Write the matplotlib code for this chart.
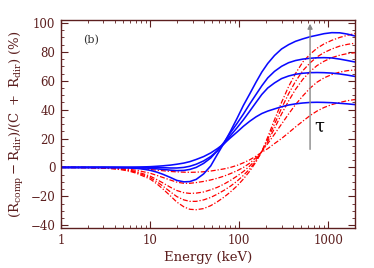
import numpy as np
import matplotlib
matplotlib.use("Agg")
import matplotlib.pyplot as plt
from matplotlib.ticker import MultipleLocator, LogLocator, NullFormatter, FixedLocator

plt.rcParams["font.family"] = "DejaVu Serif"
plt.rcParams["mathtext.fontset"] = "dejavuserif"

# energy grid (keV)
energy = [1, 2, 3, 4, 5, 6, 7, 8, 10, 12, 14, 17, 20, 24, 28, 33, 40, 48, 57,
          68, 80, 95, 112, 132, 155, 180, 210, 250, 300, 360, 430, 520, 630,
          750, 900, 1100, 1350, 1650, 2000]

# blue solid curves
blue1 = [0, 0, 0, -0.1, -0.2, -0.4, -0.7, -1, -2, -3.3, -4.8, -7, -9, -10,
         -9.8, -8.3, -4.5, 1, 9, 17, 25, 34, 43, 51, 59, 66, 72, 77.5, 82,
         85, 87.3, 89, 90.5, 91.5, 92.6, 93.3, 93.2, 92.3, 91]
blue2 = [0, 0, 0, 0, 0, -0.1, -0.2, -0.3, -0.6, -1, -1.4, -1.9, -2.2, -2.1,
         -1.4, 0, 2.8, 6.5, 11.5, 17.5, 24, 30.5, 37, 44, 50.5, 56.5, 62,
         66.5, 70, 72.5, 74, 75, 75.6, 75.9, 76, 75.8, 75, 74, 73]
blue3 = [0, 0, 0, 0, 0, 0, 0, 0, 0, -0.1, -0.2, -0.4, -0.4, 0, 0.8, 2.2, 4.5,
         7.5, 11.5, 16.5, 22, 27.5, 33, 39, 45, 50.5, 55, 58.5, 61.5, 63.3,
         64.5, 65.2, 65.6, 65.7, 65.6, 65.3, 64.7, 63.9, 63]
blue4 = [0, 0, 0, 0, 0, 0.1, 0.2, 0.3, 0.5, 0.8, 1.1, 1.6, 2.2, 3, 4, 5.5,
         7.5, 10, 13, 16.5, 20.5, 24.5, 28.5, 32, 35, 37.3, 39, 40.5, 42,
         43.2, 44, 44.6, 45, 45.1, 45, 44.8, 44.4, 44, 43.5]

# red dash-dot curves
red1 = [0, 0, 0, -0.1, -0.3, -0.5, -0.7, -0.9, -1.4, -1.9, -2.3, -2.8, -3.1,
        -3.3, -3.4, -3.3, -3, -2.5, -1.8, -1, 0, 1.4, 3.2, 5.3, 7.8, 10.5, 13,
        16.5, 20, 24, 28, 32, 36, 39, 41.5, 43.5, 45, 46.2, 47]
red2 = [0, -0.1, -0.2, -0.5, -0.9, -1.4, -2, -2.7, -4, -5.6, -7, -8.8, -10.2,
        -11, -11, -10.5, -9.7, -8.7, -7.5, -6, -4.3, -2.3, 0, 3, 6.8, 11,
        16.5, 23, 30, 37, 43.5, 49.5, 55, 59, 62, 64.3, 66, 67, 67.5]
red3 = [0, -0.1, -0.3, -0.7, -1.2, -2, -3, -4, -6, -8.5, -10.8, -13.8, -16,
        -17.5, -18, -17.8, -17, -15.5, -13.8, -11.5, -9, -6, -2.8, 1, 5.5, 11,
        18, 27, 37, 46, 54, 61, 66.5, 70.5, 73.5, 76, 77.7, 78.8, 79.4]
red4 = [0, -0.1, -0.4, -0.9, -1.5, -2.4, -3.5, -4.7, -7, -10, -13, -17,
        -20.2, -22.5, -23.5, -23.5, -22.5, -20.8, -18.5, -15.8, -13, -9.5,
        -5.5, -1, 4.5, 11, 19.5, 30, 41, 51, 59.5, 67, 72.5, 76.5, 79.5, 82,
        84, 85.2, 86]
red5 = [0, -0.1, -0.5, -1, -1.8, -2.8, -4, -5.5, -8, -11.5, -15, -19.8, -24,
        -27.3, -29, -29.3, -28.5, -26.5, -23.8, -20.5, -17, -12.8, -8, -2.5,
        3.8, 11, 21, 33, 45, 56, 65, 73, 78.5, 82.5, 85.5, 88, 90, 91.5, 92.7]

blues = [blue1, blue2, blue3, blue4]
reds = [red1, red2, red3, red4, red5]

frame = "#5c1f1f"

fig = plt.figure(figsize=(3.74, 2.68), dpi=100)
ax = fig.add_axes([0.163, 0.149, 0.786, 0.776])

for r in reds:
    ax.plot(energy, r, color="red", lw=0.9, ls=(0, (4, 1.5, 1, 1.5)))
for b in blues:
    ax.plot(energy, b, color="#0a0aff", lw=1.15)

ax.set_xscale("log")
ax.set_xlim(1, 2000)
ax.set_ylim(-42, 102)

ax.yaxis.set_major_locator(MultipleLocator(20))
ax.yaxis.set_minor_locator(MultipleLocator(5))
ax.xaxis.set_major_locator(FixedLocator([1, 10, 100, 1000]))
ax.xaxis.set_major_formatter(plt.FuncFormatter(lambda v, p: "%d" % v))
ax.xaxis.set_minor_locator(LogLocator(base=10, subs=np.arange(2, 10)))
ax.xaxis.set_minor_formatter(NullFormatter())

ax.tick_params(which="both", direction="in", top=True, right=True,
               colors=frame, labelcolor=frame, labelsize=8.5)
ax.tick_params(which="major", length=5, width=0.8, pad=4)
ax.tick_params(which="minor", length=2.5, width=0.6)
for s in ax.spines.values():
    s.set_color(frame)
    s.set_linewidth(1.0)

ax.set_xlabel("Energy (keV)", color=frame, fontsize=9.5, labelpad=3)
ax.set_ylabel(r"$(\mathrm{R_{comp}}-\mathrm{R_{dir}})/(\mathrm{C\ +\ R_{dir}})$ (%)",
              color=frame, fontsize=9.5, labelpad=3)

ax.text(0.075, 0.89, "(b)", transform=ax.transAxes, fontsize=8, color="#333333")

# tau arrow
ax.annotate("", xy=(627, 99.5), xytext=(627, 12.5),
            arrowprops=dict(arrowstyle="-|>", color="#888888", lw=1.0,
                            mutation_scale=7, shrinkA=0, shrinkB=0))
ax.text(690, 25, "τ", fontsize=13, color="black")

fig.savefig("out.png", dpi=100)
